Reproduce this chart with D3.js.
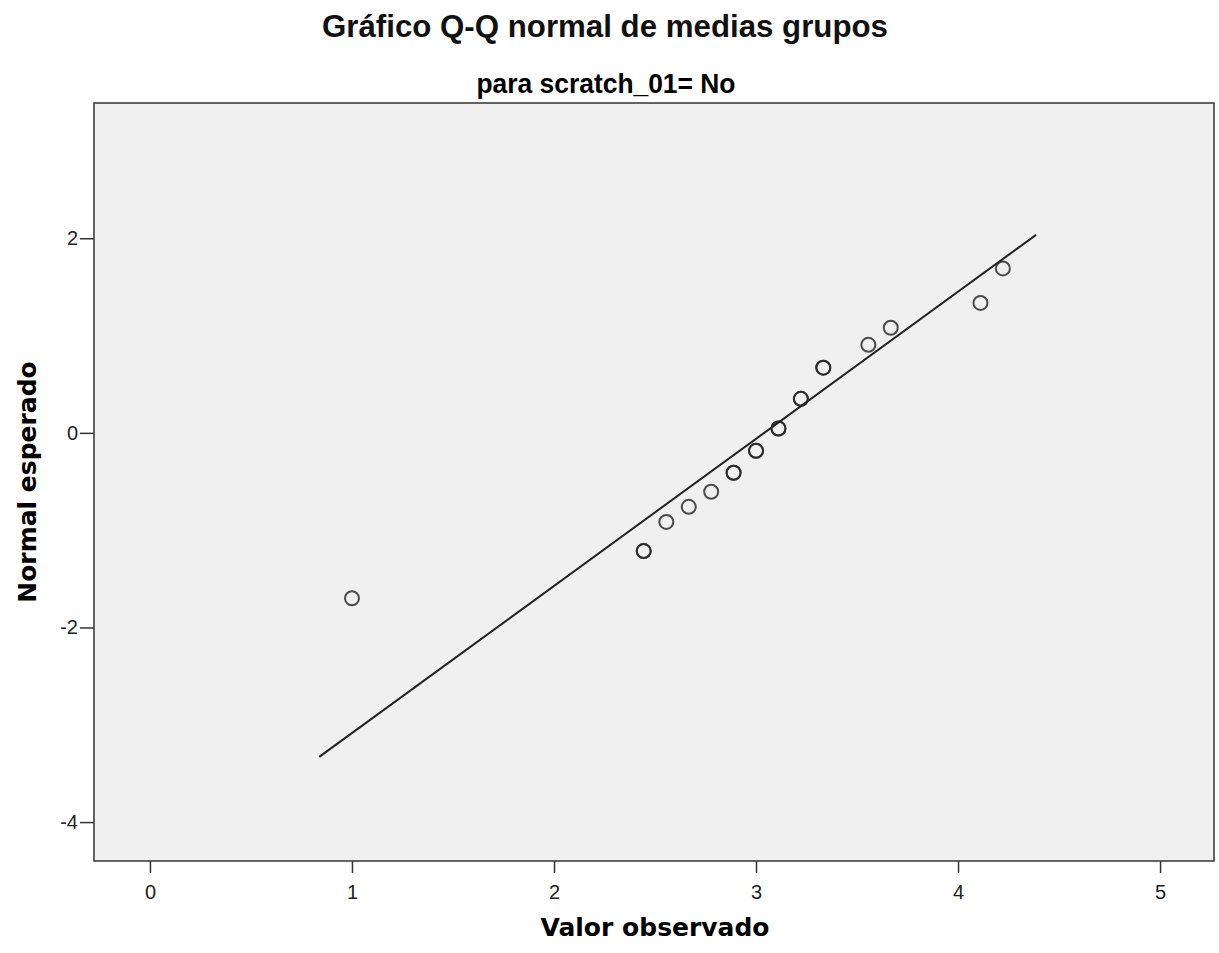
<!DOCTYPE html>
<html>
<head>
<meta charset="utf-8">
<script src="https://cdn.jsdelivr.net/npm/d3@7"></script>
<style>
  body { margin: 0; background: #fff; }
  svg { display: block; }
</style>
</head>
<body>
<svg id="chart" width="1219" height="953"></svg>
<script>
// observed group means (x) against expected normal values (y)
const observed = [1.0, 2.444, 2.444, 2.556, 2.667, 2.778, 2.889, 2.889, 3.0, 3.0,
  3.111, 3.111, 3.222, 3.222, 3.333, 3.333, 3.556, 3.667, 4.111, 4.222];
const expected = [-1.70, -1.215, -1.215, -0.915, -0.76, -0.605, -0.41, -0.41, -0.185, -0.185,
  0.045, 0.045, 0.35, 0.35, 0.67, 0.67, 0.905, 1.08, 1.335, 1.69];
const lineX = [0.838, 4.386];
const lineY = [-3.33, 2.035];
const xTicks = [0, 1, 2, 3, 4, 5];
const yTicks = [-4, -2, 0, 2];

const svg = d3.select('#chart');
const plot = { left: 94, right: 1214, top: 103, bottom: 861 };

const x = d3.scaleLinear().domain([-0.277, 5.267]).range([plot.left, plot.right]);
const y = d3.scaleLinear().domain([-4.4, 3.39]).range([plot.bottom, plot.top]);
const fmt = (d) => String(d); // plain hyphen minus, as in the original

svg.append('rect')
  .attr('x', plot.left)
  .attr('y', plot.top)
  .attr('width', plot.right - plot.left)
  .attr('height', plot.bottom - plot.top)
  .attr('fill', '#f0f0f0')
  .attr('stroke', '#333')
  .attr('stroke-width', 1.5);

const xAxis = svg.append('g')
  .attr('transform', `translate(0,${plot.bottom})`)
  .call(d3.axisBottom(x).tickValues(xTicks).tickSize(12).tickPadding(12).tickFormat(fmt));
const yAxis = svg.append('g')
  .attr('transform', `translate(${plot.left},0)`)
  .call(d3.axisLeft(y).tickValues(yTicks).tickSize(14).tickPadding(2).tickFormat(fmt));

[xAxis, yAxis].forEach((g) => {
  g.select('.domain').remove();
  g.selectAll('line').attr('stroke', '#333').attr('stroke-width', 1.5);
  g.selectAll('text')
    .attr('fill', '#222')
    .style('font-family', '"Liberation Sans", Arial, sans-serif')
    .style('font-size', '20px');
});

svg.append('line')
  .attr('x1', x(lineX[0]))
  .attr('y1', y(lineY[0]))
  .attr('x2', x(lineX[1]))
  .attr('y2', y(lineY[1]))
  .attr('stroke', '#222')
  .attr('stroke-width', 2);

svg.append('g')
  .selectAll('circle')
  .data(observed.map((v, i) => [v, expected[i]]))
  .join('circle')
  .attr('cx', (d) => x(d[0]))
  .attr('cy', (d) => y(d[1]))
  .attr('r', 7)
  .attr('fill', 'none')
  .attr('stroke', '#222')
  .attr('stroke-width', 2)
  .attr('stroke-opacity', 0.8);

svg.append('text')
  .attr('x', 605)
  .attr('y', 37)
  .attr('text-anchor', 'middle')
  .attr('textLength', 566)
  .attr('lengthAdjust', 'spacingAndGlyphs')
  .style('font-family', '"Liberation Sans", Arial, sans-serif')
  .style('font-size', '31px')
  .style('font-weight', 'bold')
  .attr('fill', '#111')
  .text('Gráfico Q-Q normal de medias grupos');

svg.append('text')
  .attr('x', 606)
  .attr('y', 93)
  .attr('text-anchor', 'middle')
  .attr('textLength', 259)
  .attr('lengthAdjust', 'spacingAndGlyphs')
  .style('font-family', '"Liberation Sans", Arial, sans-serif')
  .style('font-size', '28px')
  .style('font-weight', 'bold')
  .attr('fill', '#000')
  .text('para scratch_01= No');

svg.append('text')
  .attr('x', 655)
  .attr('y', 936)
  .attr('text-anchor', 'middle')
  .style('font-family', '"DejaVu Sans", Verdana, sans-serif')
  .style('font-size', '25px')
  .style('font-weight', 'bold')
  .attr('fill', '#000')
  .text('Valor observado');

svg.append('text')
  .attr('transform', 'translate(36,482) rotate(-90)')
  .attr('text-anchor', 'middle')
  .style('font-family', '"DejaVu Sans", Verdana, sans-serif')
  .style('font-size', '25px')
  .style('font-weight', 'bold')
  .attr('fill', '#000')
  .text('Normal esperado');
</script>
</body>
</html>
